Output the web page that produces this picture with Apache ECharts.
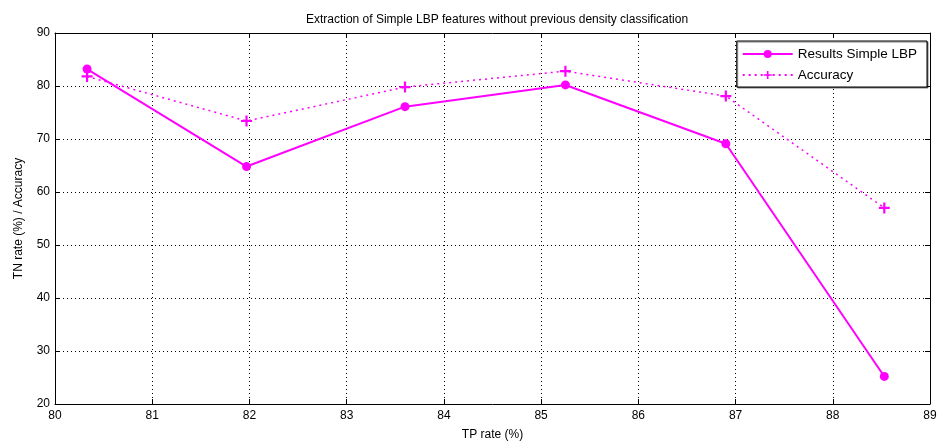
<!DOCTYPE html>
<html>
<head>
<meta charset="utf-8">
<script src="https://cdn.jsdelivr.net/npm/echarts@6/dist/echarts.min.js"></script>
<style>
  html, body { margin: 0; padding: 0; background: #fff; }
  #main { width: 941px; height: 446px; }
</style>
</head>
<body>
<div id="main"></div>
<script>
// data
const tpRate = [80.33, 81.97, 83.6, 85.25, 86.9, 88.53];
const tnRate = [83.2, 64.8, 76.1, 80.2, 69.1, 25.2];
const accuracy = [81.8, 73.4, 79.8, 82.8, 78.1, 57.0];

const font = "'Liberation Sans Narrow', 'Liberation Sans', Arial, sans-serif";
const magenta = "#ff00ff";
const plus = "path://M4,0H6V4H10V6H6V10H4V6H0V4H4Z";

const chart = echarts.init(document.getElementById("main"));

const boxAxis = {
  axisLine: { show: true, lineStyle: { color: "#000", width: 1 } },
  axisTick: { show: true, inside: true, length: 5, lineStyle: { color: "#000" } },
  axisLabel: { show: false },
  splitLine: { show: false }
};

chart.setOption({
  animation: false,
  title: {
    text: "Extraction of Simple LBP features without previous density classification",
    left: 492,
    textAlign: "center",
    top: 9,
    textStyle: { fontFamily: font, fontSize: 12, fontWeight: "normal", color: "#000" }
  },
  legend: {
    right: 14,
    top: 41,
    orient: "vertical",
    itemWidth: 50,
    itemHeight: 10,
    itemGap: 7,
    padding: [6, 10, 5, 5],
    backgroundColor: "#fff",
    borderColor: "#000",
    borderWidth: 1,
    shadowColor: "rgba(0,0,0,0.5)",
    shadowOffsetX: 1,
    shadowOffsetY: 1,
    borderRadius: 0,
    textStyle: { fontFamily: font, fontSize: 13.5, color: "#000" },
    data: ["Results Simple LBP", "Accuracy"]
  },
  grid: { left: 55, right: 11, top: 33, bottom: 41 },
  xAxis: [
    {
      type: "value",
      min: 80,
      max: 89,
      interval: 1,
      name: "TP rate (%)",
      nameLocation: "middle",
      nameGap: 25,
      nameTextStyle: { fontFamily: font, fontSize: 12, color: "#000" },
      axisLine: { show: true, onZero: false, lineStyle: { color: "#000" } },
      axisTick: { show: true, inside: true, length: 5, lineStyle: { color: "#000" } },
      axisLabel: { fontFamily: font, fontSize: 12, color: "#000", margin: 6 },
      splitLine: { show: true, lineStyle: { color: "#000", type: [1, 3], width: 1 } }
    },
    Object.assign({ type: "value", min: 80, max: 89, interval: 1, position: "top" }, boxAxis)
  ],
  yAxis: [
    {
      type: "value",
      min: 20,
      max: 90,
      interval: 10,
      name: "TN rate (%) / Accuracy",
      nameLocation: "middle",
      nameGap: 30,
      nameTextStyle: { fontFamily: font, fontSize: 12, color: "#000" },
      axisLine: { show: true, onZero: false, lineStyle: { color: "#000" } },
      axisTick: { show: true, inside: true, length: 5, lineStyle: { color: "#000" } },
      axisLabel: { fontFamily: font, fontSize: 12, color: "#000", margin: 5 },
      splitLine: { show: true, lineStyle: { color: "#000", type: [1, 3], width: 1 } }
    },
    Object.assign({ type: "value", min: 20, max: 90, interval: 10, position: "right" }, boxAxis)
  ],
  series: [
    {
      name: "Results Simple LBP",
      type: "line",
      data: tpRate.map((x, i) => [x, tnRate[i]]),
      symbol: "circle",
      symbolSize: 9,
      lineStyle: { color: magenta, width: 2 },
      itemStyle: { color: magenta },
      z: 3
    },
    {
      name: "Accuracy",
      type: "line",
      data: tpRate.map((x, i) => [x, accuracy[i]]),
      symbol: plus,
      symbolSize: 11,
      lineStyle: { color: magenta, width: 1.5, type: [2, 4] },
      itemStyle: { color: magenta },
      z: 2
    }
  ]
});
</script>
</body>
</html>
